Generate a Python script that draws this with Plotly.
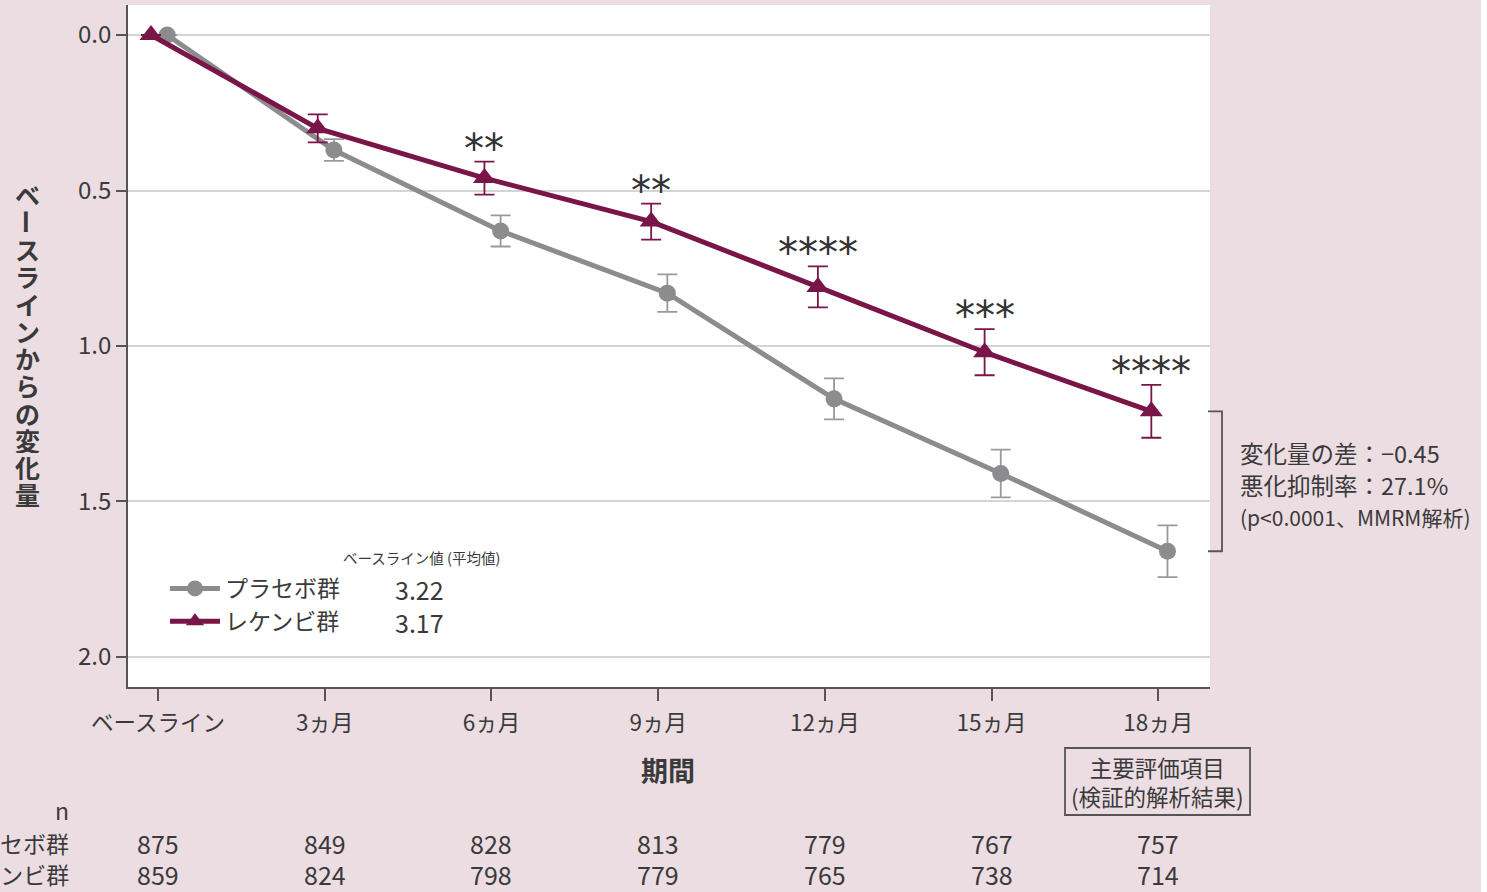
import plotly.graph_objects as go

# ---------------- data ----------------
categories = ["ベースライン", "3ヵ月", "6ヵ月", "9ヵ月", "12ヵ月", "15ヵ月", "18ヵ月"]
placebo_mean = [0.0, 0.37, 0.63, 0.83, 1.17, 1.41, 1.66]
placebo_err = [0.0, 0.035, 0.05, 0.06, 0.066, 0.077, 0.083]
leqembi_mean = [0.0, 0.30, 0.46, 0.60, 0.81, 1.02, 1.21]
leqembi_err = [0.0, 0.045, 0.053, 0.058, 0.066, 0.074, 0.085]
significance = ["", "", "**", "**", "****", "***", "****"]
n_placebo = [875, 849, 828, 813, 779, 767, 757]
n_leqembi = [859, 824, 798, 779, 765, 738, 714]
group_names = ["プラセボ群", "レケンビ群"]
baseline_values = ["3.22", "3.17"]
diff_text = ["変化量の差：−0.45", "悪化抑制率：27.1%", "(p<0.0001、MMRM解析)"]

# ---------------- style ----------------
W, H = 1487, 892
L, R, T, B = 128, 1210, 5, 687
FONT = "Noto Sans CJK JP"
TXT = "#3a3a3a"
MAROON = "#7a1548"
GRAY = "#8c8c8e"
BG = "#ecdde2"

def px(xp):
    return (xp - L) / (R - L)

def py(yp):
    return (B - yp) / (B - T)

idx = list(range(len(categories)))
off_p, off_l = 0.055, -0.042

fig = go.Figure()
fig.add_trace(go.Scatter(
    x=[i + off_p for i in idx], y=placebo_mean, name=group_names[0],
    mode="lines+markers",
    line=dict(color=GRAY, width=5),
    marker=dict(symbol="circle", size=17, color=GRAY),
    error_y=dict(type="data", array=placebo_err, visible=True,
                 color="#9a9a9c", thickness=1.8, width=10),
))
fig.add_trace(go.Scatter(
    x=[i + off_l for i in idx], y=leqembi_mean, name=group_names[1],
    mode="lines+markers",
    line=dict(color=MAROON, width=5),
    marker=dict(symbol="triangle-up", size=20, color=MAROON),
    error_y=dict(type="data", array=leqembi_err, visible=True,
                 color=MAROON, thickness=1.8, width=10),
))

ann = []
# significance stars
for i in idx:
    if significance[i]:
        ann.append(dict(x=i + off_l, y=leqembi_mean[i] - leqembi_err[i],
                        xref="x", yref="y", text=significance[i], showarrow=False,
                        yanchor="middle", yshift=13,
                        font=dict(family="DejaVu Sans", size=40, color="#333333")))

# vertical y-axis title (characters stacked, long-vowel mark turned upright)
ytitle = "ベースラインからの変化量"
for k, ch in enumerate(ytitle):
    ann.append(dict(x=px(27), y=py(194 + 27.27 * k), xref="paper", yref="paper",
                    text="<b>" + ch + "</b>", showarrow=False,
                    textangle=90 if ch == "ー" else 0,
                    width=27, height=27, borderpad=0,
                    xanchor="center", yanchor="middle",
                    font=dict(family=FONT, size=25, color=TXT)))

# x axis title
ann.append(dict(x=px(668), y=py(770), xref="paper", yref="paper", text="<b>期間</b>",
                showarrow=False, xanchor="center", yanchor="middle",
                font=dict(family=FONT, size=27, color=TXT)))

# primary endpoint box text
ann.append(dict(x=px(1157), y=py(782), xref="paper", yref="paper",
                text="主要評価項目<br>(検証的解析結果)", showarrow=False,
                xanchor="center", yanchor="middle",
                font=dict(family=FONT, size=22.5, color=TXT)))

# legend title & baseline values
ann.append(dict(x=px(421), y=py(557), xref="paper", yref="paper",
                text="ベースライン値 (平均値)", showarrow=False,
                xanchor="center", yanchor="middle",
                font=dict(family=FONT, size=14.5, color=TXT)))
for k, v in enumerate(baseline_values):
    ann.append(dict(x=px(419), y=py(589 + 33 * k), xref="paper", yref="paper",
                    text=v, showarrow=False, xanchor="center", yanchor="middle",
                    font=dict(family=FONT, size=25, color=TXT)))

# difference text
for k, t in enumerate(diff_text):
    ann.append(dict(x=px(1238), y=py(453 + 32 * k), xref="paper", yref="paper",
                    text=t, showarrow=False, xanchor="left", yanchor="middle",
                    font=dict(family=FONT, size=23.5 if k < 2 else 21, color=TXT)))

# n table
ann.append(dict(x=px(62), y=py(810), xref="paper", yref="paper", text="n",
                showarrow=False, xanchor="center", yanchor="middle",
                font=dict(family=FONT, size=23, color=TXT)))
for row, (name, vals) in enumerate([(group_names[0], n_placebo), (group_names[1], n_leqembi)]):
    yy = py(843 + 31 * row)
    ann.append(dict(x=px(71), y=yy, xref="paper", yref="paper", text=name,
                    showarrow=False, xanchor="right", yanchor="middle",
                    font=dict(family=FONT, size=23, color=TXT)))
    for i, v in zip(idx, vals):
        ann.append(dict(x=i, y=yy, xref="x", yref="paper", text=str(v),
                        showarrow=False, xanchor="center", yanchor="middle",
                        font=dict(family=FONT, size=25, color=TXT)))

shapes = [
    # white strip at far right
    dict(type="rect", xref="paper", yref="paper", x0=px(1481), x1=px(1500),
         y0=py(900), y1=py(-10), fillcolor="white", line=dict(width=0), layer="below"),
    # primary endpoint box
    dict(type="rect", xref="paper", yref="paper", x0=px(1065), x1=px(1250),
         y0=py(815), y1=py(748), line=dict(color="#555555", width=1.8)),
    # bracket at 18 months
    dict(type="path", xref="paper", yref="y",
         path=f"M {px(1208)},{leqembi_mean[-1]} L {px(1222)},{leqembi_mean[-1]} "
              f"L {px(1222)},{placebo_mean[-1]} L {px(1208)},{placebo_mean[-1]}",
         line=dict(color="#555555", width=1.8)),
]

fig.update_layout(
    width=W, height=H,
    margin=dict(l=L, r=W - R, t=T, b=H - B, pad=0),
    paper_bgcolor=BG, plot_bgcolor="white",
    font=dict(family=FONT, color=TXT),
    showlegend=True,
    legend=dict(x=px(165), y=py(605), xanchor="left", yanchor="middle",
                bgcolor="rgba(0,0,0,0)", font=dict(family=FONT, size=23, color=TXT),
                itemwidth=50, tracegroupgap=0),
    annotations=ann, shapes=shapes,
    xaxis=dict(range=[-0.18, 6.31], tickmode="array", tickvals=idx, ticktext=categories,
               showgrid=False, zeroline=False, showline=True, linecolor="#555555",
               linewidth=1.8, ticks="outside", ticklen=12, tickwidth=1.5, tickcolor="#555555",
               ticklabelstandoff=3,
               tickfont=dict(family=FONT, size=22.5, color=TXT), fixedrange=True),
    yaxis=dict(range=[2.0965, -0.0965], tickmode="array", tickvals=[0, 0.5, 1.0, 1.5, 2.0],
               ticktext=["0.0", "0.5", "1.0", "1.5", "2.0"],
               showgrid=True, gridcolor="#d4d4d4", gridwidth=1.5, zeroline=False,
               showline=True, linecolor="#555555", linewidth=1.8,
               ticks="outside", ticklen=10, tickwidth=1.5, tickcolor="#555555",
               tickfont=dict(family=FONT, size=24, color=TXT), fixedrange=True),
)

fig.write_html("out.html", config={"displayModeBar": False},
               post_script="document.body.style.margin='0px';document.body.style.overflow='hidden';")
